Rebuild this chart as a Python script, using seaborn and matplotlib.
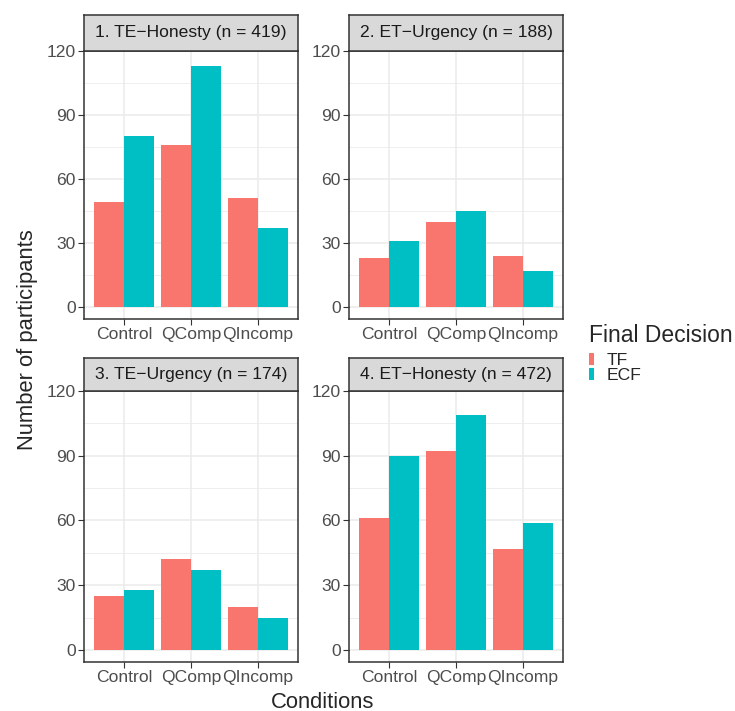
import numpy as np
import pandas as pd
import matplotlib.pyplot as plt
import seaborn as sns
from matplotlib.patches import Patch

sns.set_style('white')
plt.rcParams['font.family'] = ['Liberation Sans', 'DejaVu Sans']

conditions = ['Control', 'QComp', 'QIncomp']
decisions = ['TF', 'ECF']
panels = ['1. TE\u2212Honesty (n = 419)', '2. ET\u2212Urgency (n = 188)',
          '3. TE\u2212Urgency (n = 174)', '4. ET\u2212Honesty (n = 472)']
tf_counts = [[49, 76, 51], [23, 40, 24], [25, 42, 20], [61, 92, 47]]
ecf_counts = [[80, 113, 37], [31, 45, 17], [28, 37, 15], [90, 109, 59]]
palette = {'TF': '#F8766D', 'ECF': '#00BFC4'}

W, H = 735, 711
fig = plt.figure(figsize=(W / 100, H / 100), dpi=100)

# panel boxes in pixels: left, right, strip top, panel top, panel bottom
cols = [(84, 298), (349, 563)]
rows = [(15, 51, 319), (358, 391, 662)]

for i, title in enumerate(panels):
    l, r = cols[i % 2]
    st, pt, pb = rows[i // 2]
    ax = fig.add_axes([l / W, 1 - pb / H, (r - l) / W, (pb - pt) / H])
    sax = fig.add_axes([l / W, 1 - pt / H, (r - l) / W, (pt - st) / H])

    df = pd.DataFrame({
        'Condition': conditions * 2,
        'Decision': ['TF'] * 3 + ['ECF'] * 3,
        'Count': tf_counts[i] + ecf_counts[i],
    })
    sns.barplot(data=df, x='Condition', y='Count', hue='Decision',
                hue_order=decisions, palette=palette, width=0.9, gap=0,
                saturation=1, ax=ax, legend=False, zorder=3)
    for p in ax.patches:
        p.set_edgecolor('none')

    ax.set_xlim(-0.6, 2.6)
    ax.set_ylim(-5.6, 120)
    ax.set_yticks([0, 30, 60, 90, 120])
    ax.set_yticks([15, 45, 75, 105], minor=True)
    ax.grid(True, which='major', color='#EBEBEB', lw=1.1, zorder=0)
    ax.grid(True, which='minor', axis='y', color='#EBEBEB', lw=0.6, zorder=0)
    ax.set_axisbelow(True)
    ax.tick_params(which='major', length=4, width=0.8, color='#333333',
                   labelsize=12.6, labelcolor='#4D4D4D', bottom=True, left=True, pad=2)
    ax.tick_params(which='minor', length=0)
    ax.set_xlabel('')
    ax.set_ylabel('')
    for s in ax.spines.values():
        s.set_color('#333333')
        s.set_linewidth(1.1)

    sax.set_facecolor('#D9D9D9')
    sax.set_xticks([])
    sax.set_yticks([])
    for s in sax.spines.values():
        s.set_color('#333333')
        s.set_linewidth(1.1)
    sax.text(0.5, 0.5, title, ha='center', va='center', fontsize=12.6,
             color='#1A1A1A', transform=sax.transAxes)

fig.text(323 / W, 1 - 702 / H, 'Conditions', ha='center', va='center', fontsize=15.8)
fig.text(28 / W, 1 - 340 / H, 'Number of participants', ha='center', va='center',
         rotation=90, fontsize=15.8)

handles = [Patch(facecolor=palette[d], edgecolor='none') for d in decisions]
leg = fig.legend(handles, decisions, title='Final Decision', loc='upper left',
                 bbox_to_anchor=(589 / W, 1 - 324 / H), frameon=False,
                 fontsize=12.6, title_fontsize=16.5, handlelength=0.3,
                 handleheight=0.7, labelspacing=0.0, handletextpad=0.7,
                 borderaxespad=0, borderpad=0)
leg._legend_box.align = 'left'
leg._legend_box.sep = 4

fig.savefig('out.png', dpi=100)
